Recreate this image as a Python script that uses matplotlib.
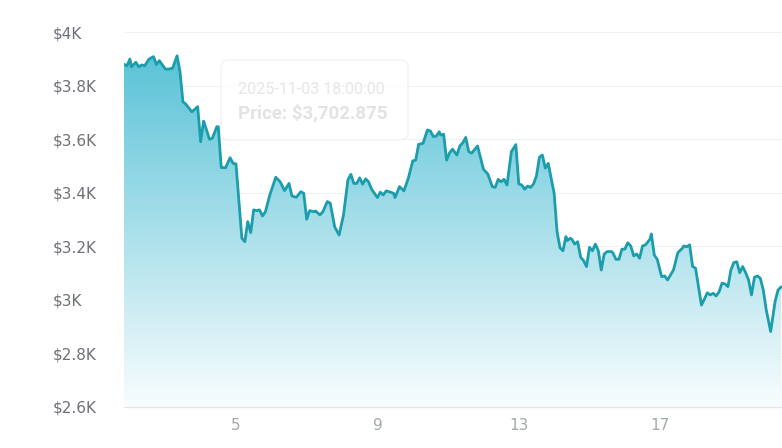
import numpy as np
import pandas as pd
import matplotlib
matplotlib.use('Agg')
import matplotlib.pyplot as plt
import matplotlib.dates as mdates
from matplotlib.patches import FancyBboxPatch
from matplotlib.ticker import FuncFormatter

# hours since 2025-11-01 00:00, price in USD
hours = [20, 22, 24, 25, 28, 30, 32, 34, 37, 40, 42, 44, 48, 50, 53, 56, 58, 60, 62, 66,
         68, 70, 72, 74, 76, 78, 80, 83, 84, 86, 89, 92, 94, 96,
         100, 102, 104, 106, 108, 110, 112, 114, 116, 119, 123, 126, 129, 132, 134, 137,
         140, 142, 144, 146, 149, 150, 153, 155, 158, 160, 163, 166, 169, 172, 174, 176,
         178, 180, 182, 184, 186, 188, 192, 194, 196, 198, 201, 203, 204, 207, 210, 213,
         216, 218, 220, 223, 226, 228, 230, 232, 234, 235, 237, 239, 241, 243, 246, 248,
         250, 252, 254, 256, 260, 264, 267, 270, 272, 274, 276, 278, 280, 283, 286, 288,
         290, 292, 294, 296, 298, 300, 302, 304, 306, 308, 312, 314, 316, 318, 320, 321,
         323, 324, 326, 328, 330, 332, 334, 336, 338, 340, 342, 344, 346, 348, 351, 352,
         354, 356, 358, 360, 362, 364, 366, 368, 370, 372, 374, 377, 378, 380, 382, 385,
         387, 389, 393, 396, 399, 400, 402, 404, 406, 408, 412, 414, 416, 418, 420, 422,
         424, 426, 428, 430, 432, 434, 436, 438, 440, 442, 444, 446, 448, 450, 452, 454,
         456, 459, 462, 464, 466]
prices = [3880, 3875, 3900, 3871, 3888, 3871, 3878, 3875, 3900, 3909, 3880, 3894, 3863, 3862,
          3866, 3912, 3853, 3740, 3731, 3702.875,
          3712, 3722, 3591, 3668, 3635, 3600, 3604, 3647, 3647, 3494, 3494, 3531, 3510, 3508,
          3230, 3217, 3292, 3251, 3336, 3333, 3336, 3313, 3329, 3392, 3458, 3441, 3408, 3435,
          3388, 3383, 3404, 3398, 3301, 3333, 3329, 3332, 3317, 3329, 3367, 3361, 3273, 3242,
          3317, 3448, 3469, 3435, 3435, 3456, 3432, 3452, 3441, 3414, 3382, 3402, 3392, 3407,
          3402, 3398, 3382, 3423, 3407, 3454, 3519, 3522, 3581, 3585, 3635, 3631, 3610, 3612,
          3628, 3616, 3619, 3522, 3549, 3563, 3541, 3575, 3587, 3607, 3554, 3548, 3575, 3488,
          3470, 3423, 3420, 3450, 3441, 3450, 3429, 3554, 3580, 3433, 3429, 3413, 3425, 3420,
          3433, 3463, 3533, 3541, 3492, 3510, 3398, 3254, 3194, 3183, 3236, 3221, 3230, 3226,
          3208, 3217, 3159, 3146, 3124, 3196, 3183, 3208, 3183, 3111, 3171, 3180, 3180, 3174,
          3151, 3151, 3189, 3189, 3213, 3201, 3164, 3171, 3155, 3201, 3205, 3226, 3246, 3167,
          3151, 3086, 3089, 3074, 3111, 3176, 3192, 3201, 3198, 3205, 3124, 3118, 2980, 3002,
          3026, 3018, 3024, 3014, 3030, 3062, 3059, 3049, 3111, 3139, 3142, 3101, 3124, 3101,
          3074, 3018, 3084, 3089, 3080, 3036, 2962, 2881, 2993, 3036, 3047]

tick_days = ['2025-11-05', '2025-11-09', '2025-11-13', '2025-11-17']
y_ticks = [2600, 2800, 3000, 3200, 3400, 3600, 3800, 4000]
tip_time = '2025-11-03 18:00:00'
tip_price = 3702.875

start = pd.Timestamp('2025-11-01')
times = start + pd.to_timedelta(hours, unit='h')
x = mdates.date2num(times.to_pydatetime())
y = np.array(prices, dtype=float)
x_right = mdates.date2num((start + pd.Timedelta(hours=466.7)).to_pydatetime())

line_color = '#1b9dac'
top_rgb = np.array([91, 195, 215]) / 255
bot_rgb = np.array([249, 253, 254]) / 255

fig = plt.figure(figsize=(7.82, 4.48), dpi=100)
ax = fig.add_axes([0.1586, 0.0922, 0.8414, 0.8357])

# gradient area under the line
ymin, ymax = 2600, 4000
t = np.linspace(0, 1, 256)[:, None]
grad = (top_rgb[None, :] * (1 - t) + bot_rgb[None, :] * t)[:, None, :]
poly = ax.fill_between(x, y, ymin, facecolor='none', edgecolor='none')
im = ax.imshow(grad, aspect='auto', extent=[x[0], x[-1], ymin, y.max()],
               origin='upper', zorder=1, interpolation='bilinear')
im.set_clip_path(poly.get_paths()[0], transform=ax.transData)

ax.plot(x, y, color=line_color, lw=2.0, zorder=3, solid_joinstyle='round')

ax.set_xlim(x[0], x_right)
ax.set_ylim(ymin, ymax)

ax.set_yticks(y_ticks)
ax.yaxis.set_major_formatter(FuncFormatter(lambda v, p: f'${v / 1000:g}K'))
ax.set_xticks(mdates.date2num(pd.to_datetime(tick_days).to_pydatetime()))
ax.xaxis.set_major_formatter(FuncFormatter(lambda v, p: str(mdates.num2date(v).day)))

ax.grid(axis='y', color='#f1f1f1', lw=0.8)
ax.grid(axis='x', visible=False)
ax.set_axisbelow(True)
for s in ['left', 'right', 'top']:
    ax.spines[s].set_visible(False)
ax.spines['bottom'].set_color('#e4e4e4')
ax.spines['bottom'].set_linewidth(0.9)

ax.tick_params(axis='y', length=0, pad=51, labelsize=11, labelcolor='#6e7079')
ax.tick_params(axis='x', length=0, pad=8.5, labelsize=11, labelcolor='#a2a9ab')
for lab in ax.get_yticklabels():
    lab.set_horizontalalignment('left')

# faded tooltip
box = FancyBboxPatch((0.1474, 0.7123), 0.2842, 0.2137, transform=ax.transAxes,
                     boxstyle='round,pad=0,rounding_size=0.012', mutation_aspect=1.76,
                     facecolor='white', edgecolor='#f0f0f0', lw=1.0, alpha=0.8, zorder=5)
ax.add_patch(box)
ax.text(0.1733, 0.8477, tip_time, transform=ax.transAxes, fontsize=11.5,
        family=['Roboto', 'DejaVu Sans'], color='#e6e6e6', va='center', ha='left', zorder=6)
ax.text(0.1733, 0.7836, f'Price: ${tip_price:,.3f}', transform=ax.transAxes, fontsize=13.5,
        family=['Roboto', 'DejaVu Sans'], fontweight='bold', color='#e3e3e3',
        va='center', ha='left', zorder=6)

fig.savefig('out.png', dpi=100)
